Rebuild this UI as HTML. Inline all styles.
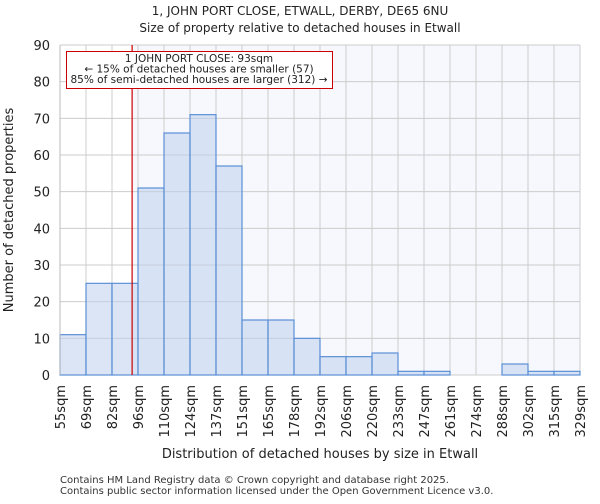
<!DOCTYPE html>
<html><head><meta charset="utf-8"><style>
body{margin:0;background:#fff;font-family:"DejaVu Sans","Liberation Sans",sans-serif}
</style></head><body>
<svg id="chart" width="600" height="500" xmlns="http://www.w3.org/2000/svg" font-family="DejaVu Sans, Liberation Sans, sans-serif">
<text x="300" y="15" text-anchor="middle" font-size="12" fill="#222">1, JOHN PORT CLOSE, ETWALL, DERBY, DE65 6NU</text>
<text x="300" y="32" text-anchor="middle" font-size="12" fill="#222">Size of property relative to detached houses in Etwall</text>
<g id="plot"></g>
<text x="320" y="458" text-anchor="middle" font-size="13" fill="#222">Distribution of detached houses by size in Etwall</text>
<text transform="translate(13,210) rotate(-90)" text-anchor="middle" font-size="13" fill="#222">Number of detached properties</text>
<text x="60" y="483" font-size="10" fill="#333">Contains HM Land Registry data © Crown copyright and database right 2025.</text>
<text x="60" y="494" font-size="10" fill="#333">Contains public sector information licensed under the Open Government Licence v3.0.</text>
</svg>
<script>
const edgeLabels=["55sqm","69sqm","82sqm","96sqm","110sqm","124sqm","137sqm","151sqm","165sqm","178sqm","192sqm","206sqm","220sqm","233sqm","247sqm","261sqm","274sqm","288sqm","302sqm","315sqm","329sqm"];
const counts=[11,25,25,51,66,71,57,15,15,10,5,5,6,1,1,0,0,3,1,1];
const yTicks=[0,10,20,30,40,50,60,70,80,90];
const binStart=55, binWidth=13.7, propertySize=93;
const X0=60,X1=580,Y0=375,Y1=45,YMAX=90;
const ns="http://www.w3.org/2000/svg";
const g=document.getElementById('plot');
const bw=(X1-X0)/counts.length;
const xs=v=>X0+(v-binStart)/binWidth*bw;
const ys=v=>Y0-(v/YMAX)*(Y0-Y1);
function mk(t,a){const e=document.createElementNS(ns,t);for(const k in a)e.setAttribute(k,a[k]);g.appendChild(e);return e;}
let e;
const mx=xs(propertySize);
e=mk('rect',{x:mx,y:Y1,width:X1-mx,height:Y0-Y1,fill:'#f6f8fd'});


yTicks.forEach(t=>{
 e=mk('line',{x1:X0,x2:X1,y1:ys(t),y2:ys(t),stroke:'#cccccc','stroke-width':1});
 
 
 e=mk('text',{x:X0-10,y:ys(t)+5,'text-anchor':'end','font-size':13,fill:'#222'});e.textContent=t;
 
 
});
edgeLabels.forEach((l,i)=>{
 const x=X0+i*bw;
 e=mk('line',{x1:x,x2:x,y1:Y1,y2:Y0,stroke:'#cccccc','stroke-width':1});
 
 
 e=mk('text',{transform:`translate(${x+5},${Y0+10}) rotate(-90)`,'text-anchor':'end','font-size':13,fill:'#222'});e.textContent=l;
 
 
});
counts.forEach((c,i)=>{
 if(c<=0)return;
 e=mk('rect',{x:X0+i*bw,y:ys(c),width:bw,height:Y0-ys(c),fill:'rgba(190,208,236,0.55)',stroke:'#5b8fd6','stroke-width':1.2});
 
 
});
e=mk('line',{x1:mx,x2:mx,y1:Y1,y2:Y0,stroke:'#cc0000','stroke-width':1.2});


e=mk('rect',{x:66.5,y:51.5,width:266,height:37,fill:'#fff',stroke:'#cc0000','stroke-width':1});


["1 JOHN PORT CLOSE: 93sqm","← 15% of detached houses are smaller (57)","85% of semi-detached houses are larger (312) →"].forEach((s,i)=>{
 e=mk('text',{x:199,y:62+i*10.5,'text-anchor':'middle','font-size':10.5,fill:'#222'});e.textContent=s;
 
 
});
e=mk('line',{x1:X0,x2:X0,y1:Y1,y2:Y0,stroke:'#bbbbbb'});


</script>
</body></html>
